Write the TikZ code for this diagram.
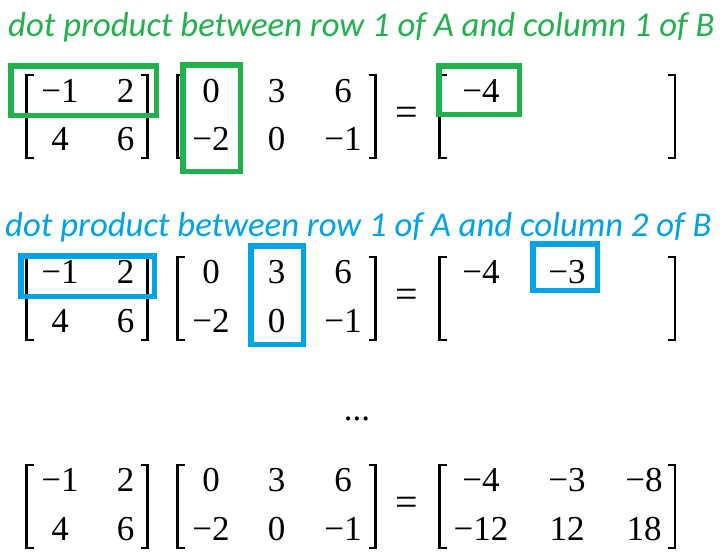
\documentclass[tikz,border=0pt]{standalone}
\usepackage{fontspec}
\setmainfont{Liberation Serif}
\newfontfamily\numfont{Liberation Serif}
\newfontfamily\capfont{Carlito}
\definecolor{pgreen}{HTML}{22B14C}
\definecolor{pblue}{HTML}{00A2E8}
\newcommand\LBrk[3]{\draw[brk] (#1+7,#2) -- (#1,#2) -- (#1,#3) -- (#1+7,#3);}
\newcommand\RBrk[3]{\draw[brk] (#1-7,#2) -- (#1,#2) -- (#1,#3) -- (#1-7,#3);}
\begin{document}
\begin{tikzpicture}[x=1pt,y=-1pt,
  entry/.style={anchor=base, inner sep=0pt, font=\numfont\fontsize{35}{35}\selectfont},
  eqsign/.style={anchor=center, inner sep=0pt, font=\numfont\fontsize{40}{40}\selectfont},
  captext/.style={anchor=base west, inner sep=0pt, font=\capfont\itshape\fontsize{34.7}{34.7}\selectfont},
  brk/.style={line width=2.6pt, black, line join=miter},
  hlgreen/.style={draw=pgreen, line width=5.5pt},
  hlblue/.style={draw=pblue, line width=5.5pt}]
\useasboundingbox[fill=white] (0,0) rectangle (725,558);

% ---------- set 1 ----------
\node[captext, text=pgreen] (cap1) at (8,36) {dot product between row 1 of A and column 1 of B};
\LBrk{26.5}{75}{158}\RBrk{147.5}{75}{158}
\LBrk{177.5}{75}{158}\RBrk{375.5}{75}{158}
\LBrk{439.5}{75}{158}\RBrk{675}{75}{158}
\node[entry] (a1-11) at (60,102) {−1};
\node[entry] (a1-12) at (125.5,102) {2};
\node[entry] (a1-21) at (60,150) {4};
\node[entry] (a1-22) at (125.5,150) {6};
\node[entry] (b1-11) at (211,102) {0};
\node[entry] (b1-12) at (276.5,102) {3};
\node[entry] (b1-13) at (343,102) {6};
\node[entry] (b1-21) at (211,150) {−2};
\node[entry] (b1-22) at (276.5,150) {0};
\node[entry] (b1-23) at (343,150) {−1};
\node[eqsign] (eq1) at (407,116) {=};
\node[entry] (r1-11) at (481,102) {−4};
\draw[hlgreen] (10.75,65.75) rectangle (156.25,115.25);
\draw[hlgreen] (182.75,64.75) rectangle (240.25,171.25);
\draw[hlgreen] (438.75,65.75) rectangle (519.25,114.25);

% ---------- set 2 ----------
\node[captext, text=pblue] (cap2) at (5,236) {dot product between row 1 of A and column 2 of B};
\LBrk{26.5}{257}{340}\RBrk{147.5}{257}{340}
\LBrk{177.5}{257}{340}\RBrk{375.5}{257}{340}
\LBrk{439.5}{257}{340}\RBrk{675}{257}{340}
\node[entry] (a2-11) at (60,283) {−1};
\node[entry] (a2-12) at (125.5,283) {2};
\node[entry] (a2-21) at (60,332) {4};
\node[entry] (a2-22) at (125.5,332) {6};
\node[entry] (b2-11) at (211,283) {0};
\node[entry] (b2-12) at (276.5,283) {3};
\node[entry] (b2-13) at (343,283) {6};
\node[entry] (b2-21) at (211,332) {−2};
\node[entry] (b2-22) at (276.5,332) {0};
\node[entry] (b2-23) at (343,332) {−1};
\node[eqsign] (eq2) at (407,298.5) {=};
\node[entry] (r2-11) at (481,283) {−4};
\node[entry] (r2-12) at (567,283) {−3};
\draw[hlblue] (20.75,255.75) rectangle (154.25,296.25);
\draw[hlblue] (250.75,245.75) rectangle (303.25,344.25);
\draw[hlblue] (532.75,243.75) rectangle (597.25,290.25);

% ---------- dots ----------
\node[entry] (dots) at (357,420) {...};

% ---------- set 3 ----------
\LBrk{26.5}{465}{548}\RBrk{147.5}{465}{548}
\LBrk{177.5}{465}{548}\RBrk{375.5}{465}{548}
\LBrk{439.5}{465}{548}\RBrk{675}{465}{548}
\node[entry] (a3-11) at (60,491) {−1};
\node[entry] (a3-12) at (125.5,491) {2};
\node[entry] (a3-21) at (60,540) {4};
\node[entry] (a3-22) at (125.5,540) {6};
\node[entry] (b3-11) at (211,491) {0};
\node[entry] (b3-12) at (276.5,491) {3};
\node[entry] (b3-13) at (343,491) {6};
\node[entry] (b3-21) at (211,540) {−2};
\node[entry] (b3-22) at (276.5,540) {0};
\node[entry] (b3-23) at (343,540) {−1};
\node[eqsign] (eq3) at (407,506) {=};
\node[entry] (r3-11) at (481,491) {−4};
\node[entry] (r3-12) at (567,491) {−3};
\node[entry] (r3-13) at (644,491) {−8};
\node[entry] (r3-21) at (481,540) {−12};
\node[entry] (r3-22) at (567,540) {12};
\node[entry] (r3-23) at (644,540) {18};
\end{tikzpicture}
\end{document}
